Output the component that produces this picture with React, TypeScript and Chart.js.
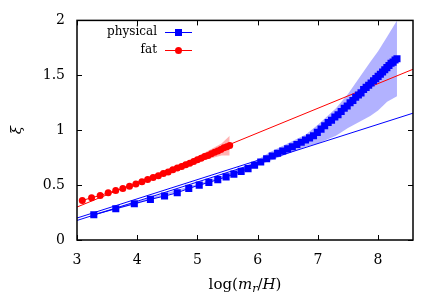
import React, { useEffect, useRef } from 'react';
import { Chart, registerables } from 'chart.js';

Chart.register(...registerables);

const xTicks = [3, 4, 5, 6, 7, 8];
const yTicks = [0, 0.5, 1, 1.5, 2];
const xMin = 3;
const xMax = 8.58;
const yMin = 0;
const yMax = 2;

const seriesNames = ['physical', 'fat'];

const physicalX = [
  3.279, 3.644, 3.952, 4.219, 4.454, 4.665, 4.856, 5.03, 5.19, 5.338,
  5.476, 5.605, 5.726, 5.841, 5.949, 6.051, 6.149, 6.242, 6.331, 6.416,
  6.498, 6.576, 6.652, 6.724, 6.795, 6.862, 6.928, 6.991, 7.053, 7.113,
  7.171, 7.227, 7.282, 7.335, 7.387, 7.438, 7.487, 7.535, 7.582, 7.628,
  7.673, 7.717, 7.76, 7.802, 7.844, 7.884, 7.924, 7.962, 8.001, 8.038,
  8.075, 8.111, 8.146, 8.181, 8.215, 8.249, 8.282, 8.314,
];
const physicalY = [
  0.23, 0.285, 0.33, 0.37, 0.4, 0.43, 0.47, 0.5, 0.525, 0.55,
  0.575, 0.6, 0.625, 0.65, 0.68, 0.71, 0.74, 0.765, 0.79, 0.81,
  0.83, 0.85, 0.87, 0.89, 0.91, 0.93, 0.95, 0.98, 1.01, 1.04,
  1.07, 1.09, 1.12, 1.14, 1.17, 1.2, 1.22, 1.25, 1.27, 1.3,
  1.32, 1.34, 1.37, 1.39, 1.41, 1.43, 1.45, 1.47, 1.49, 1.51,
  1.53, 1.55, 1.57, 1.59, 1.61, 1.62, 1.64, 1.65,
];

const fatX = [
  3.088, 3.242, 3.385, 3.518, 3.643, 3.761, 3.872, 3.978, 4.078, 4.173,
  4.264, 4.351, 4.434, 4.514, 4.591, 4.665, 4.737, 4.805, 4.872, 4.937,
  4.999, 5.06, 5.119, 5.176, 5.231, 5.285, 5.338, 5.389, 5.439, 5.488, 5.536,
];
const fatY = [
  0.36, 0.385, 0.405, 0.43, 0.45, 0.47, 0.49, 0.51, 0.53, 0.55,
  0.57, 0.585, 0.605, 0.62, 0.64, 0.655, 0.67, 0.685, 0.7, 0.715,
  0.73, 0.745, 0.76, 0.77, 0.785, 0.8, 0.81, 0.825, 0.84, 0.85, 0.86,
];

const physicalBandX = [3.279, 4.0, 5.0, 5.6, 6.0, 6.2, 6.8, 7.0, 7.3, 7.5, 7.87, 8.0, 8.15, 8.314];
const physicalBandLow = [0.225, 0.33, 0.49, 0.59, 0.68, 0.72, 0.85, 0.88, 0.95, 1.02, 1.13, 1.18, 1.26, 1.31];
const physicalBandHigh = [0.24, 0.35, 0.51, 0.62, 0.73, 0.8, 0.96, 1.05, 1.2, 1.33, 1.62, 1.72, 1.85, 2.0];

const fatBandX = [4.3, 4.7, 5.0, 5.2, 5.4, 5.536];
const fatBandLow = [0.58, 0.645, 0.705, 0.74, 0.77, 0.77];
const fatBandHigh = [0.585, 0.68, 0.76, 0.82, 0.88, 0.95];

const fitX = [3, 8.58];
const physicalFitY = [0.178, 1.155];
const physicalFit2X = [3, 6.0];
const physicalFit2Y = [0.2, 0.725];
const fatFitY = [0.3, 1.555];

const BLUE = '#0000ff';
const RED = '#ff0000';
const FONT = 'DejaVu Serif';

const pts = (xs: number[], ys: number[]) => xs.map((x, i) => ({ x, y: ys[i] }));

const decorPlugin = {
  id: 'decor',
  afterDraw(chart: any) {
    const { ctx, chartArea: a, scales } = chart;
    const xs = scales.x;
    const ys = scales.y;
    ctx.save();
    ctx.strokeStyle = '#000';
    ctx.lineWidth = 1.5;
    ctx.strokeRect(a.left, a.top, a.right - a.left, a.bottom - a.top);
    ctx.lineWidth = 1;
    const tl = 5;
    ctx.beginPath();
    xTicks.forEach((v) => {
      const px = Math.round(xs.getPixelForValue(v)) + 0.5;
      ctx.moveTo(px, a.bottom);
      ctx.lineTo(px, a.bottom - tl);
      ctx.moveTo(px, a.top);
      ctx.lineTo(px, a.top + tl);
    });
    yTicks.forEach((v) => {
      const py = Math.round(ys.getPixelForValue(v)) + 0.5;
      ctx.moveTo(a.left, py);
      ctx.lineTo(a.left + tl, py);
      ctx.moveTo(a.right, py);
      ctx.lineTo(a.right - tl, py);
    });
    ctx.stroke();

    // legend (gnuplot style: text then sample)
    const entries = [
      { label: seriesNames[0], color: BLUE, style: 'rect', y: 32 },
      { label: seriesNames[1], color: RED, style: 'circle', y: 50 },
    ];
    ctx.font = `12px "${FONT}"`;
    ctx.textAlign = 'right';
    ctx.textBaseline = 'middle';
    entries.forEach((e) => {
      ctx.fillStyle = '#000';
      ctx.fillText(e.label, 157, e.y);
      ctx.strokeStyle = e.color;
      ctx.lineWidth = 1;
      ctx.beginPath();
      ctx.moveTo(165, e.y + 0.5);
      ctx.lineTo(192, e.y + 0.5);
      ctx.stroke();
      ctx.fillStyle = e.color;
      ctx.beginPath();
      if (e.style === 'rect') {
        ctx.rect(178.5 - 3.5, e.y + 0.5 - 3.5, 7, 7);
      } else {
        ctx.arc(178.5, e.y + 0.5, 3.5, 0, Math.PI * 2);
      }
      ctx.fill();
    });

    // x title: log(m_r/H)
    ctx.fillStyle = '#000';
    ctx.textAlign = 'left';
    ctx.textBaseline = 'alphabetic';
    const parts = [
      { t: 'log(', f: `15px "${FONT}"`, dy: 0 },
      { t: 'm', f: `italic 15px "${FONT}"`, dy: 0 },
      { t: 'r', f: `italic 11px "${FONT}"`, dy: 3 },
      { t: '/', f: `15px "${FONT}"`, dy: 0 },
      { t: 'H', f: `italic 15px "${FONT}"`, dy: 0 },
      { t: ')', f: `15px "${FONT}"`, dy: 0 },
    ];
    let total = 0;
    parts.forEach((p) => {
      ctx.font = p.f;
      total += ctx.measureText(p.t).width;
    });
    let cx = (a.left + a.right) / 2 - total / 2;
    const base = 289;
    parts.forEach((p) => {
      ctx.font = p.f;
      ctx.fillText(p.t, cx, base + p.dy);
      cx += ctx.measureText(p.t).width;
    });

    // y title: xi (rotated)
    ctx.translate(17, (a.top + a.bottom) / 2);
    ctx.rotate(-Math.PI / 2);
    ctx.font = `italic 15px "${FONT}"`;
    ctx.textAlign = 'center';
    ctx.textBaseline = 'middle';
    ctx.fillText('ξ', 0, 0);
    ctx.restore();
  },
};

export default function App() {
  const ref = useRef<HTMLCanvasElement>(null);

  useEffect(() => {
    document.body.style.margin = '0';
    const canvas = ref.current;
    if (!canvas) return;
    const chart = new Chart(canvas, {
      type: 'line',
      data: {
        datasets: [
          {
            label: seriesNames[0],
            data: pts(physicalX, physicalY),
            borderColor: BLUE,
            backgroundColor: BLUE,
            borderWidth: 1,
            pointStyle: 'rect',
            pointRadius: 5,
            pointBorderWidth: 0,
            fill: false,
            tension: 0,
          },
          {
            label: seriesNames[1],
            data: pts(fatX, fatY),
            borderColor: RED,
            backgroundColor: RED,
            borderWidth: 1,
            pointStyle: 'circle',
            pointRadius: 3.5,
            pointBorderWidth: 0,
            fill: false,
            tension: 0,
          },
          {
            label: 'physical fit',
            data: pts(fitX, physicalFitY),
            borderColor: BLUE,
            borderWidth: 1,
            pointRadius: 0,
            fill: false,
          },
          {
            label: 'physical fit 2',
            data: pts(physicalFit2X, physicalFit2Y),
            borderColor: BLUE,
            borderWidth: 1,
            pointRadius: 0,
            fill: false,
          },
          {
            label: 'fat fit',
            data: pts(fitX, fatFitY),
            borderColor: RED,
            borderWidth: 1,
            pointRadius: 0,
            fill: false,
          },
          {
            label: 'physical band high',
            data: pts(physicalBandX, physicalBandHigh),
            borderWidth: 0,
            borderColor: 'rgba(0,0,0,0)',
            pointRadius: 0,
            fill: false,
          },
          {
            label: 'physical band low',
            data: pts(physicalBandX, physicalBandLow),
            borderWidth: 0,
            borderColor: 'rgba(0,0,0,0)',
            backgroundColor: 'rgba(0,0,255,0.3)',
            pointRadius: 0,
            fill: 5,
          },
          {
            label: 'fat band high',
            data: pts(fatBandX, fatBandHigh),
            borderWidth: 0,
            borderColor: 'rgba(0,0,0,0)',
            pointRadius: 0,
            fill: false,
          },
          {
            label: 'fat band low',
            data: pts(fatBandX, fatBandLow),
            borderWidth: 0,
            borderColor: 'rgba(0,0,0,0)',
            backgroundColor: 'rgba(255,0,0,0.3)',
            pointRadius: 0,
            fill: 7,
          },
        ],
      },
      options: {
        animation: false,
        responsive: false,
        maintainAspectRatio: false,
        layout: { padding: { left: 0, top: 18, right: 23, bottom: 0 } },
        plugins: {
          legend: { display: false },
          tooltip: { enabled: false },
        },
        scales: {
          x: {
            type: 'linear',
            min: xMin,
            max: xMax,
            grid: { display: false, drawTicks: false },
            border: { display: false },
            ticks: {
              color: '#000',
              font: { family: FONT, size: 14 },
              padding: 12,
              maxRotation: 0,
              callback: (v: any) => String(v),
            },
            afterBuildTicks: (s: any) => {
              s.ticks = xTicks.map((v) => ({ value: v }));
            },
            afterFit: (s: any) => {
              s.height = 65;
            },
          },
          y: {
            type: 'linear',
            min: yMin,
            max: yMax,
            grid: { display: false, drawTicks: false },
            border: { display: false },
            ticks: {
              color: '#000',
              font: { family: FONT, size: 14 },
              padding: 12,
              callback: (v: any) => String(v),
            },
            afterBuildTicks: (s: any) => {
              s.ticks = yTicks.map((v) => ({ value: v }));
            },
            afterFit: (s: any) => {
              s.width = 77;
            },
          },
        },
      },
      plugins: [decorPlugin],
    });
    return () => chart.destroy();
  }, []);

  return (
    <div style={{ position: 'absolute', left: 0, top: 0, width: 436, height: 305, background: '#fff' }}>
      <canvas ref={ref} width={436} height={305} />
    </div>
  );
}
